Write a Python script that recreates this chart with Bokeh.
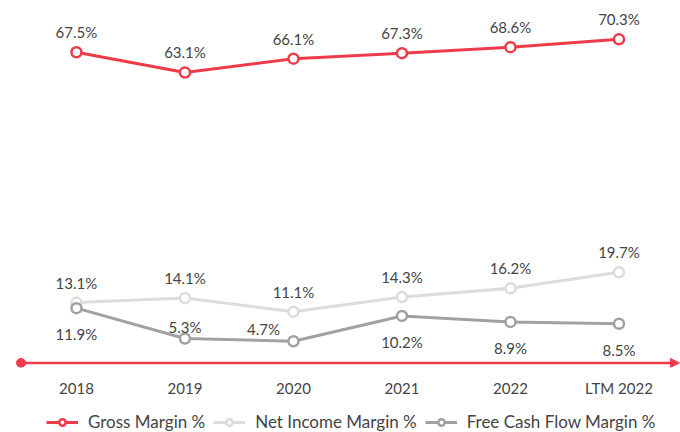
from bokeh.plotting import figure
from bokeh.layouts import column
from bokeh.models import (ColumnDataSource, Range1d, FixedTicker, Legend, LegendItem,
                          Arrow, NormalHead)
from bokeh.core.properties import value
from bokeh.embed import file_html
from bokeh.resources import INLINE

# ---- data ----
categories = ["2018", "2019", "2020", "2021", "2022", "LTM 2022"]
gross_margin = [67.5, 63.1, 66.1, 67.3, 68.6, 70.3]
net_income_margin = [13.1, 14.1, 11.1, 14.3, 16.2, 19.7]
fcf_margin = [11.9, 5.3, 4.7, 10.2, 8.9, 8.5]
series_names = ["Gross Margin %", "Net Income Margin %", "Free Cash Flow Margin %"]

# label placement (style)
gross_pos = ["above"] * 6
net_pos = ["above"] * 6
fcf_pos = ["below", "above_near", "left", "below", "below", "below"]

RED = "#EE3B4A"
LIGHT = "#DEDBD9"
DARK = "#A2A1A1"
TXT = "#444444"
FONT = "Lato"
FS = "15px"

OFFS = {"above": (0, -20), "below": (0, 26), "above_near": (0, -12), "left": (-30, -12)}

X_START, X_END = -0.571, 5.567
p = figure(width=680, height=408, output_backend="svg", toolbar_location=None,
           x_range=Range1d(X_START, X_END), y_range=Range1d(-1.0, 77),
           min_border_left=14, min_border_right=0, min_border_top=8, min_border_bottom=41)
p.outline_line_color = None
p.grid.visible = False
p.yaxis.visible = False

xs = list(range(len(categories)))
p.xaxis.ticker = FixedTicker(ticks=xs)
p.xaxis.major_label_overrides = {i: c for i, c in enumerate(categories)}
p.xaxis.axis_line_color = None
p.xaxis.major_tick_line_color = None
p.xaxis.minor_tick_line_color = None
p.xaxis.major_tick_out = 0
p.xaxis.major_tick_in = 0
p.xaxis.major_label_text_font = FONT
p.xaxis.major_label_text_font_size = FS
p.xaxis.major_label_text_color = TXT
p.xaxis.major_label_standoff = 11

# axis arrow line
p.add_layout(Arrow(end=NormalHead(size=9, fill_color=RED, line_color=RED, line_width=1),
                   x_start=X_START + 0.06, y_start=0, x_end=X_END - 0.01, y_end=0,
                   line_color=RED, line_width=2.5))
p.scatter(x=[X_START + 0.06], y=[0], size=9, color=RED)

# legend strip (its glyphs lie outside its visible range; only the legend shows)
q = figure(width=680, height=24, output_backend="svg", toolbar_location=None,
           x_range=Range1d(1000, 1001), y_range=Range1d(1000, 1001),
           x_axis_location=None, y_axis_location=None,
           min_border_left=0, min_border_right=0, min_border_top=0, min_border_bottom=0)
q.outline_line_color = None
q.grid.visible = False

items = []
for name, vals, col, pos in [(series_names[0], gross_margin, RED, gross_pos),
                             (series_names[1], net_income_margin, LIGHT, net_pos),
                             (series_names[2], fcf_margin, DARK, fcf_pos)]:
    src = ColumnDataSource(dict(
        x=xs, y=vals, lbl=[f"{v:.1f}%" for v in vals],
        dx=[OFFS[k][0] for k in pos], dy=[OFFS[k][1] for k in pos]))
    p.line("x", "y", source=src, line_color=col, line_width=3)
    p.scatter("x", "y", source=src, size=10, fill_color="white", line_color=col, line_width=2.5)
    p.text("x", "y", text="lbl", source=src, x_offset="dx", y_offset="dy",
           text_align="center", text_baseline="middle", text_font=value(FONT),
           text_font_size=FS, text_color=TXT)
    ln = q.line("x", "y", source=src, line_color=col, line_width=3)
    sc = q.scatter("x", "y", source=src, size=10, fill_color="white", line_color=col, line_width=2.5)
    items.append(LegendItem(label=name, renderers=[ln, sc]))

legend = Legend(items=items, orientation="horizontal", location=(32, 0),
                glyph_width=32, glyph_height=16, label_height=16, label_standoff=10,
                spacing=8, padding=0, margin=0, border_line_color=None,
                background_fill_alpha=0, label_text_font=FONT, label_text_font_size="17px",
                label_text_color=TXT)
q.add_layout(legend, "center")

layout = column(p, q, spacing=0)
open("out.html", "w").write(file_html(layout, INLINE))
